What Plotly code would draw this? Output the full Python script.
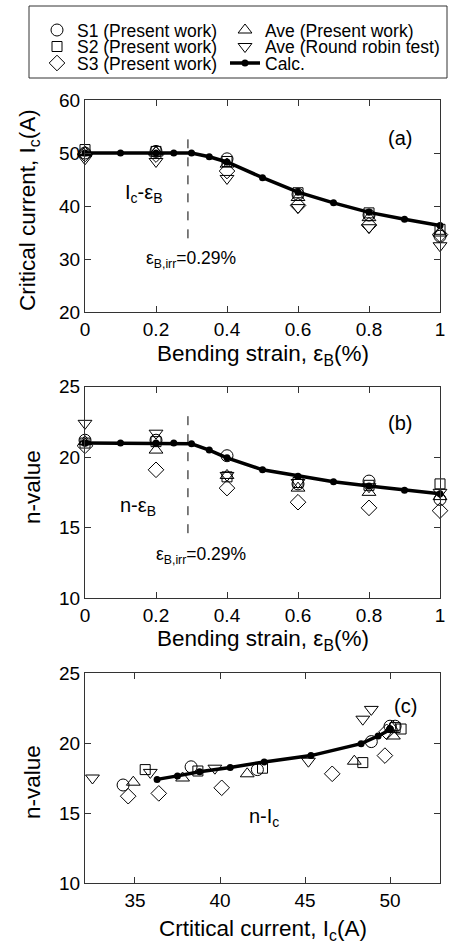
import plotly.graph_objects as go

# ---------------- data ----------------
strain = [0, 0.2, 0.4, 0.6, 0.8, 1.0]
ic_s1 = [50.0, 50.3, 48.9, 42.2, 38.3, 34.3]
ic_s2 = [50.65, 50.3, 48.4, 42.5, 38.7, 35.6]
ic_s3 = [49.8, 49.7, 46.6, 40.1, 36.4, 34.6]
ic_ave = [50.1, 50.2, 47.9, 41.6, 37.8, 34.9]
ic_rr = [48.9, 48.4, 45.2, 39.7, 35.9, 32.5]
n_s1 = [21.2, 21.2, 20.1, 18.1, 18.3, 17.0]
n_s2 = [21.0, 21.1, 18.6, 18.2, 18.0, 18.1]
n_s3 = [20.8, 19.1, 17.8, 16.8, 16.4, 16.2]
n_ave = [21.1, 20.5, 18.7, 17.8, 17.5, 17.2]
n_rr = [22.4, 21.7, 18.7, 18.2, 17.9, 17.5]

strain_calc = [0, 0.1, 0.2, 0.25, 0.3, 0.35, 0.4, 0.5, 0.6, 0.7, 0.8, 0.9, 1.0]
ic_calc = [50.0, 50.0, 50.0, 50.0, 50.0, 49.3, 48.3, 45.35, 42.6, 40.6, 38.8, 37.5, 36.3]
n_calc = [21.0, 21.0, 21.0, 21.0, 20.95, 20.5, 19.95, 19.1, 18.65, 18.25, 17.95, 17.65, 17.4]

strain_ticks = [0, 0.2, 0.4, 0.6, 0.8, 1.0]
strain_ticktext = ["0", "0.2", "0.4", "0.6", "0.8", "1"]
ic_ticks = [35, 40, 45, 50]
eps_irr = 0.29

# (name, Ic, n, symbol, size, legend id)
series = [
    ("S1 (Present work)", ic_s1, n_s1, "circle-open", 12, "legend"),
    ("S2 (Present work)", ic_s2, n_s2, "square-open", 10, "legend2"),
    ("S3 (Present work)", ic_s3, n_s3, "diamond-open", 12, "legend3"),
    ("Ave (Present work)", ic_ave, n_ave, "triangle-up-open", 12, "legend4"),
    ("Ave (Round robin test)", ic_rr, n_rr, "triangle-down-open", 12, "legend5"),
]

FONT = "Liberation Sans, Arial, sans-serif"
BLACK = "#000000"
AXC = "#333333"
W, H = 449.0, 943.0
L, R = 85.0, 9.0
PW = W - L - R


def px_x(p):
    return (p - L) / PW


def px_y(p):
    return 1 - p / H


fig = go.Figure()

panels = [("x", "y"), ("x2", "y2"), ("x3", "y3")]
for name, ic, nv, sym, sz, lg in series:
    for k, (xa, ya) in enumerate(panels):
        if k == 0:
            xs, ys = strain, ic
        elif k == 1:
            xs, ys = strain, nv
        else:
            xs, ys = ic, nv
        fig.add_trace(go.Scatter(
            x=xs, y=ys, mode="markers", name=name, xaxis=xa, yaxis=ya,
            legend=lg, showlegend=(k == 0), cliponaxis=False,
            marker=dict(symbol=sym, size=sz, color=BLACK, line=dict(width=1, color=BLACK)),
        ))

for k, (xa, ya) in enumerate(panels):
    if k == 0:
        xs, ys = strain_calc, ic_calc
    elif k == 1:
        xs, ys = strain_calc, n_calc
    else:
        xs, ys = ic_calc, n_calc
    fig.add_trace(go.Scatter(
        x=xs, y=ys, mode="lines+markers", name="Calc.", xaxis=xa, yaxis=ya,
        legend="legend6", showlegend=(k == 0), cliponaxis=False,
        line=dict(color=BLACK, width=3.5),
        marker=dict(symbol="circle", size=7, color=BLACK),
    ))

tickfont = dict(family=FONT, size=19, color=BLACK)
titlefont = dict(family=FONT, size=22.5, color=BLACK)

common_ax = dict(showline=True, linecolor=AXC, linewidth=1, mirror="ticks",
                 ticks="inside", ticklen=6, tickcolor=AXC, showgrid=False,
                 zeroline=False, tickfont=tickfont)


def dom(top_px, bot_px):
    return [1 - bot_px / H, 1 - top_px / H]


LEG_FS = 17.5
half_item = (LEG_FS * 1.3 + 3) / 2
legend_layout = {}
col_x = [37, 225]
row_y = [25, 41.5, 58]
for i in range(6):
    key = "legend" if i == 0 else "legend%d" % (i + 1)
    col, row = divmod(i, 3)
    legend_layout[key] = dict(
        xref="container", yref="container", x=col_x[col] / W,
        y=1 - (row_y[row] - half_item) / H, xanchor="left", yanchor="top",
        font=dict(family=FONT, size=LEG_FS, color=BLACK),
        bgcolor="rgba(0,0,0,0)", borderwidth=0, tracegroupgap=0)

fig.update_layout(
    width=W, height=H,
    margin=dict(l=L, r=R, t=0, b=0, autoexpand=False),
    paper_bgcolor="white", plot_bgcolor="white",
    font=dict(family=FONT, color=BLACK),
    xaxis=dict(common_ax, domain=[0, 1], anchor="y", range=[0, 1],
               tickvals=strain_ticks, ticktext=strain_ticktext),
    yaxis=dict(common_ax, domain=dom(100, 312), anchor="x", range=[20, 60], dtick=10),
    xaxis2=dict(common_ax, domain=[0, 1], anchor="y2", range=[0, 1],
                tickvals=strain_ticks, ticktext=strain_ticktext),
    yaxis2=dict(common_ax, domain=dom(386.7, 598), anchor="x2", range=[10, 25], dtick=5),
    xaxis3=dict(common_ax, domain=[0, 1], anchor="y3", range=[32.06, 52.94],
                tickvals=ic_ticks),
    yaxis3=dict(common_ax, domain=dom(673, 883), anchor="x3", range=[10, 25], dtick=5),
    showlegend=True,
    **legend_layout,
)

# legend frame
fig.add_shape(type="rect", xref="paper", yref="paper",
              x0=px_x(29), x1=px_x(447), y0=px_y(78), y1=px_y(6),
              line=dict(color=AXC, width=1))

# irreversible strain markers
fig.add_shape(type="line", xref="x", yref="y", x0=eps_irr, x1=eps_irr, y0=33.9, y1=53.7,
              line=dict(color=BLACK, width=1, dash="dash"))
fig.add_shape(type="line", xref="x2", yref="y2", x0=eps_irr, x1=eps_irr, y0=14.6, y1=23.2,
              line=dict(color=BLACK, width=1, dash="dash"))

# axis titles as annotations
xtitle = "Bending strain, ε<sub>B</sub>(%)"
for txt, ypx in [(xtitle, 355), (xtitle, 640), ("Crtitical current, I<sub>c</sub>(A)", 930)]:
    fig.add_annotation(x=px_x(263), y=px_y(ypx), xref="paper", yref="paper", showarrow=False,
                       text=txt, font=titlefont, xanchor="center", yanchor="middle")
for txt, xpx, ypx in [("Critical current, I<sub>c</sub>(A)", 29, 210),
                      ("n-value", 32, 487), ("n-value", 32, 782)]:
    fig.add_annotation(x=px_x(xpx), y=px_y(ypx), xref="paper", yref="paper", showarrow=False,
                       text=txt, font=titlefont, textangle=-90, xanchor="center", yanchor="middle")

ann_font = dict(family=FONT, size=17.5, color=BLACK)
lab_font = dict(family=FONT, size=20, color=BLACK)
fig.add_annotation(x=0.166, y=30.0, xref="x", yref="y", xanchor="left", showarrow=False,
                   text="ε<sub>B,irr</sub>=0.29%", font=ann_font)
fig.add_annotation(x=0.194, y=13.0, xref="x2", yref="y2", xanchor="left", showarrow=False,
                   text="ε<sub>B,irr</sub>=0.29%", font=ann_font)
fig.add_annotation(x=0.107, y=42.3, xref="x", yref="y", xanchor="left", showarrow=False,
                   text="I<sub>c</sub>-ε<sub>B</sub>", font=lab_font)
fig.add_annotation(x=0.093, y=16.5, xref="x2", yref="y2", xanchor="left", showarrow=False,
                   text="n-ε<sub>B</sub>", font=lab_font)
fig.add_annotation(x=41.6, y=14.7, xref="x3", yref="y3", xanchor="left", showarrow=False,
                   text="n-I<sub>c</sub>", font=lab_font)
for txt, xr, yr, xd, yd in [("(a)", "x domain", "y domain", 0.927, 0.882),
                            ("(b)", "x2 domain", "y2 domain", 0.927, 0.89),
                            ("(c)", "x3 domain", "y3 domain", 0.94, 0.905)]:
    fig.add_annotation(x=xd, y=yd, xref=xr, yref=yr, showarrow=False, text=txt,
                       font=dict(family=FONT, size=20, color=BLACK))

fig.write_html("out.html", config={"displayModeBar": False},
               post_script="document.body.style.margin='0';")
